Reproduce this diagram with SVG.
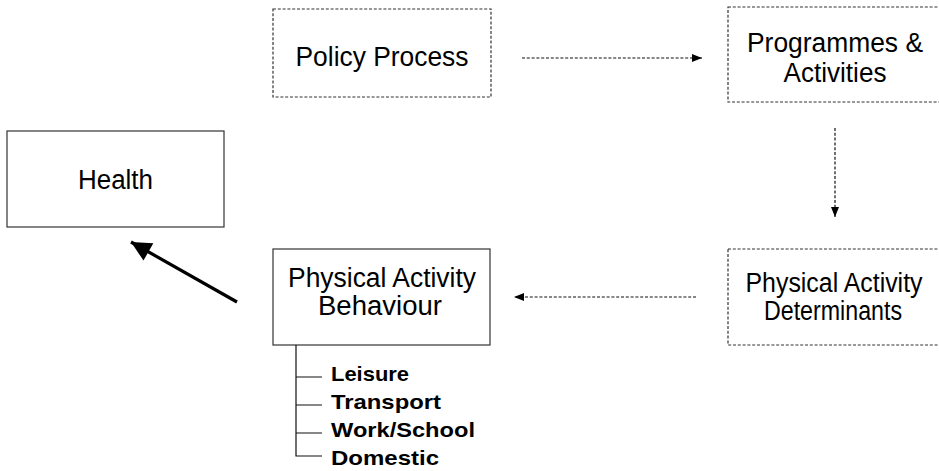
<svg xmlns="http://www.w3.org/2000/svg" width="939" height="471" viewBox="0 0 939 471">
<style>
.t{font-family:"Liberation Sans",Arial,sans-serif;font-size:27px;fill:#000;text-anchor:middle}
.b{font-family:"Liberation Sans",Arial,sans-serif;font-size:21px;font-weight:bold;fill:#000}
.solid{fill:#fff;stroke:#333;stroke-width:1.2}
.dash{fill:#fff;stroke:#333;stroke-width:1.2;stroke-dasharray:3,1.8}
.dl{fill:none;stroke:#111;stroke-width:1.2;stroke-dasharray:3,1.8}
.tree{fill:none;stroke:#111;stroke-width:1.2}
</style>
<defs>
<marker id="ah" viewBox="0 0 10 8" refX="10" refY="4" markerWidth="10" markerHeight="8" markerUnits="userSpaceOnUse" orient="auto"><path d="M0,0 L10,4 L0,8 Z" fill="#000"/></marker>
<marker id="big" viewBox="0 0 10 10" refX="10" refY="5" markerWidth="24" markerHeight="20" markerUnits="userSpaceOnUse" orient="auto"><path d="M0,0 L10,5 L0,10 Z" fill="#000"/></marker>
</defs>
<g id="policy">
<rect class="dash" x="273" y="9" width="218" height="88"/>
<text class="t" x="382" y="66" textLength="173" lengthAdjust="spacingAndGlyphs">Policy Process</text>
</g>
<g id="programmes">
<rect class="dash" x="728" y="7" width="220" height="95"/>
<text class="t" x="835" y="52" textLength="176" lengthAdjust="spacingAndGlyphs">Programmes &amp;</text>
<text class="t" x="835" y="82" textLength="103" lengthAdjust="spacingAndGlyphs">Activities</text>
</g>
<g id="health">
<rect class="solid" x="7" y="131" width="217" height="96"/>
<text class="t" x="115.5" y="189" textLength="75" lengthAdjust="spacingAndGlyphs">Health</text>
</g>
<g id="behaviour">
<rect class="solid" x="273" y="249" width="217" height="96"/>
<text class="t" x="382" y="287" textLength="188" lengthAdjust="spacingAndGlyphs">Physical Activity</text>
<text class="t" x="380" y="315" textLength="124" lengthAdjust="spacingAndGlyphs">Behaviour</text>
<path class="tree" d="M296,345 V456 H322 M296,377 H322 M296,405 H322 M296,433 H322"/>
<text class="b" x="331" y="381" textLength="78" lengthAdjust="spacingAndGlyphs">Leisure</text>
<text class="b" x="331" y="409" textLength="110" lengthAdjust="spacingAndGlyphs">Transport</text>
<text class="b" x="331" y="437" textLength="144" lengthAdjust="spacingAndGlyphs">Work/School</text>
<text class="b" x="331" y="465" textLength="108" lengthAdjust="spacingAndGlyphs">Domestic</text>
</g>
<g id="determinants">
<rect class="dash" x="728" y="249" width="220" height="96"/>
<text class="t" x="834" y="292" textLength="177" lengthAdjust="spacingAndGlyphs">Physical Activity</text>
<text class="t" x="833" y="320" textLength="138" lengthAdjust="spacingAndGlyphs">Determinants</text>
</g>
<g id="connectors">
<line class="dl" x1="522" y1="58" x2="702" y2="58" marker-end="url(#ah)"/>
<line class="dl" x1="835" y1="128" x2="835" y2="217" marker-end="url(#ah)"/>
<line class="dl" x1="696" y1="297" x2="514" y2="297" marker-end="url(#ah)"/>
<line x1="237" y1="302" x2="131" y2="242" stroke="#000" stroke-width="3.2" marker-end="url(#big)"/>
</g>
</svg>
